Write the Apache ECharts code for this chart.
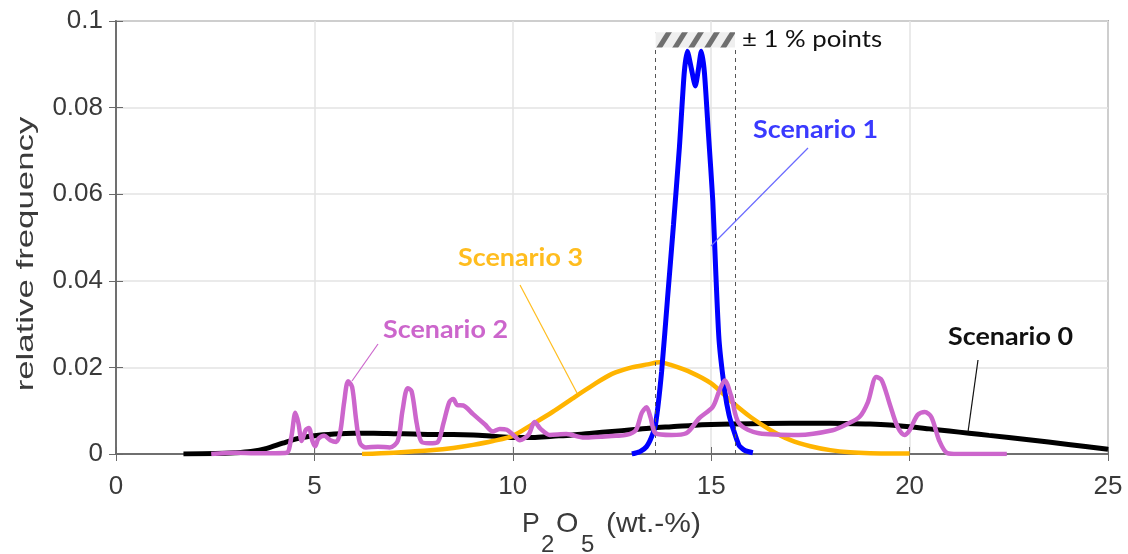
<!DOCTYPE html>
<html>
<head>
<meta charset="utf-8">
<script src="https://cdn.jsdelivr.net/npm/echarts@6/dist/echarts.min.js"></script>
<style>
  html, body { margin: 0; padding: 0; background: #fff; }
  #chart { width: 1128px; height: 554px; }
</style>
</head>
<body>
<div id="chart"></div>
<script>
// x ticks and y ticks
const xTicks = [0, 5, 10, 15, 20, 25]
const yTicks = [0, 0.02, 0.04, 0.06, 0.08, 0.1]

// Scenario 0 (schwarz)
const s0x = [1.7, 2.5, 3.0, 3.4, 3.8, 4.2, 4.6, 5.0, 5.5, 6.0, 6.5, 7.0, 7.5, 8.0, 8.5, 9.0, 9.5, 10.0, 10.5, 11.0, 11.5, 12.0, 12.5, 13.0, 13.5, 14.0, 14.5, 15.0, 16.0, 17.0, 18.0, 19.0, 19.5, 20.0, 20.5, 21.0, 21.5, 22.0, 23.0, 24.0, 25.0]
const s0y = [0, 0.0001, 0.0003, 0.0006, 0.0013, 0.0025, 0.0036, 0.0042, 0.0046, 0.0048, 0.0048, 0.0047, 0.0046, 0.0045, 0.0045, 0.0044, 0.0041, 0.0038, 0.0038, 0.0041, 0.0044, 0.0048, 0.0052, 0.0056, 0.006, 0.0063, 0.0066, 0.0068, 0.007, 0.0071, 0.0071, 0.0069, 0.0067, 0.0063, 0.0058, 0.0053, 0.0048, 0.0043, 0.0033, 0.0022, 0.0011]

// Scenario 1 (blau)
const s1x = [13.0, 13.2, 13.37, 13.5, 13.6, 13.75, 13.9, 14.05, 14.2, 14.32, 14.4, 14.5, 14.6, 14.68, 14.75, 14.83, 14.93, 15.04, 15.12, 15.2, 15.35, 15.45, 15.54, 15.7, 15.85, 16.05]
const s1y = [0, 0.0005, 0.0017, 0.004, 0.007, 0.019, 0.036, 0.053, 0.071, 0.088, 0.093, 0.089, 0.085, 0.089, 0.093, 0.088, 0.074, 0.0585, 0.041, 0.026, 0.014, 0.009, 0.0062, 0.002, 0.0008, 0.0003]

// Scenario 2 (lila)
const s2x = [2.4, 3.0, 3.5, 4.0, 4.3, 4.42, 4.52, 4.6, 4.68, 4.78, 4.86, 4.95, 5.02, 5.1, 5.25, 5.4, 5.55, 5.65, 5.75, 5.85, 5.95, 6.05, 6.15, 6.3, 6.6, 6.9, 7.1, 7.22, 7.35, 7.45, 7.58, 7.7, 7.9, 8.1, 8.25, 8.4, 8.5, 8.6, 8.75, 9.0, 9.3, 9.5, 9.67, 9.85, 10.0, 10.18, 10.4, 10.55, 10.7, 10.93, 11.35, 11.8, 12.2, 12.6, 12.86, 13.1, 13.25, 13.37, 13.47, 13.6, 14.0, 14.37, 14.7, 15.04, 15.2, 15.34, 15.5, 15.7, 16.2, 17.2, 18.06, 18.4, 18.74, 18.95, 19.16, 19.3, 19.5, 19.7, 19.87, 20.0, 20.2, 20.38, 20.55, 20.75, 20.95, 21.2, 22.45]
const s2y = [0, 0.0003, 0.0002, 0.0002, 0.0003, 0.004, 0.0095, 0.007, 0.003, 0.0055, 0.006, 0.003, 0.0018, 0.0035, 0.0042, 0.0032, 0.0028, 0.005, 0.012, 0.0168, 0.0155, 0.008, 0.0025, 0.0015, 0.0017, 0.0015, 0.003, 0.01, 0.0152, 0.0145, 0.007, 0.0028, 0.0025, 0.0027, 0.007, 0.012, 0.0127, 0.0113, 0.0112, 0.0092, 0.0068, 0.0052, 0.0058, 0.0056, 0.0045, 0.0032, 0.0045, 0.0074, 0.0058, 0.0044, 0.0046, 0.0038, 0.004, 0.0042, 0.0044, 0.0055, 0.0095, 0.0108, 0.0085, 0.0048, 0.0044, 0.0048, 0.0083, 0.0109, 0.0145, 0.017, 0.0135, 0.0071, 0.0048, 0.0044, 0.0055, 0.0068, 0.0086, 0.012, 0.0178, 0.017, 0.0115, 0.0062, 0.0044, 0.0055, 0.009, 0.0097, 0.0085, 0.003, 0.0002, 0, 0]

// Scenario 3 (orange)
const s3x = [6.2, 7.0, 8.0, 8.5, 9.0, 9.5, 10.0, 10.5, 11.0, 11.5, 12.0, 12.5, 13.0, 13.4, 13.7, 14.0, 14.5, 15.0, 15.5, 16.0, 16.5, 17.0, 17.5, 18.0, 18.5, 19.0, 20.0]
const s3y = [0, 0.0003, 0.0009, 0.0014, 0.0021, 0.003, 0.0042, 0.0069, 0.0097, 0.0128, 0.0158, 0.0185, 0.02, 0.0207, 0.0212, 0.0205, 0.0188, 0.0163, 0.0122, 0.0085, 0.0055, 0.0032, 0.0018, 0.0009, 0.0004, 0.0002, 0.0001]

// ± 1 % Band um 14.6
const bandX = [13.6, 15.6]
const bandY = [0.0939, 0.0974]

const pair = (xs, ys) => xs.map((x, i) => [x, ys[i]])

// Schraffur für das Band
function hatch () {
  const c = document.createElement('canvas')
  c.width = 16
  c.height = 48
  const g = c.getContext('2d')
  g.fillStyle = '#efefef'
  g.fillRect(0, 0, 16, 48)
  g.fillStyle = '#6f6f6f'
  for (let k = -3; k <= 3; k++) {
    const a = k * 16
    g.beginPath()
    g.moveTo(a, 48)
    g.lineTo(a + 6, 48)
    g.lineTo(a + 6 + 30, 0)
    g.lineTo(a + 30, 0)
    g.closePath()
    g.fill()
  }
  return c
}

const chart = echarts.init(document.getElementById('chart'))
const axisGrey = '#6a6a6a'
const textGrey = '#3a3a3a'
const labelFont = { color: textGrey, fontSize: 26, fontFamily: 'Liberation Sans' }
const calibri = 'Lato'

// Beschriftung im Plot (Text mit leichter Breitenstreckung wie im Original)
function note (text, x, y, color, font, sx = 1.12) {
  return {
    type: 'text', x, y, scaleX: sx, z: 10,
    style: { text, font, fill: color, textAlign: 'left', textVerticalAlign: 'middle' }
  }
}
function leader (x1, y1, x2, y2, color) {
  return { type: 'line', z: 10, shape: { x1, y1, x2, y2 }, style: { stroke: color, lineWidth: 1.2 } }
}

const option = {
  animation: false,
  grid: {
    left: 116, right: 20, top: 21, bottom: 100,
    containLabel: false, outerBoundsMode: 'none',
    show: true, borderColor: axisGrey, borderWidth: 1.5
  },
  xAxis: [
    {
      type: 'value', min: 0, max: 25, interval: 5,
      axisLine: { show: true, lineStyle: { color: axisGrey, width: 1.5 } },
      axisTick: { show: true, inside: true, length: 7, lineStyle: { color: axisGrey } },
      axisLabel: { ...labelFont, margin: 20, formatter: v => xTicks.includes(v) ? String(v) : '' },
      splitLine: { show: true, lineStyle: { color: '#e3e3e3', width: 1.5 } }
    },
    {
      type: 'value', min: 0, max: 25, interval: 5, position: 'top',
      axisLine: { show: true, lineStyle: { color: axisGrey, width: 1.5 } },
      axisTick: { show: true, inside: true, length: 7, lineStyle: { color: axisGrey } },
      axisLabel: { show: false },
      splitLine: { show: false }
    }
  ],
  yAxis: [
    {
      type: 'value', min: 0, max: 0.1, interval: 0.02,
      axisLine: { show: true, lineStyle: { color: axisGrey, width: 1.5 } },
      axisTick: { show: true, inside: true, length: 7, lineStyle: { color: axisGrey } },
      axisLabel: { ...labelFont, margin: 13, formatter: v => yTicks.includes(+v.toFixed(2)) ? String(+v.toFixed(2)) : '' },
      splitLine: { show: true, lineStyle: { color: '#e3e3e3', width: 1.5 } }
    },
    {
      type: 'value', min: 0, max: 0.1, interval: 0.02, position: 'right',
      axisLine: { show: true, lineStyle: { color: axisGrey, width: 1.5 } },
      axisTick: { show: true, inside: true, length: 7, lineStyle: { color: axisGrey } },
      axisLabel: { show: false },
      splitLine: { show: false }
    }
  ],
  series: [
    {
      name: 'Scenario 0', type: 'line', showSymbol: false, smooth: 0.3,
      lineStyle: { color: '#000', width: 5 },
      data: pair(s0x, s0y),
      z: 2
    },
    {
      name: 'Scenario 3', type: 'line', showSymbol: false, smooth: 0.3,
      lineStyle: { color: '#ffb400', width: 4.5 },
      data: pair(s3x, s3y),
      z: 3
    },
    {
      name: 'Scenario 1', type: 'line', showSymbol: false, smooth: 0.2,
      lineStyle: { color: '#0000ff', width: 5 },
      data: pair(s1x, s1y),
      z: 4,
      markLine: {
        silent: true, symbol: 'none', label: { show: false },
        lineStyle: { color: '#555', type: [4, 4], width: 1 },
        data: bandX.map(x => [{ coord: [x, 0] }, { coord: [x, bandY[0]] }])
      },
      markArea: {
        silent: true, label: { show: false },
        itemStyle: { color: { image: hatch(), repeat: 'repeat' } },
        data: [[{ coord: [bandX[0], bandY[0]] }, { coord: [bandX[1], bandY[1]] }]]
      }
    },
    {
      name: 'Scenario 2', type: 'line', showSymbol: false, smooth: 0.3,
      lineStyle: { color: '#cc66cc', width: 4.5 },
      data: pair(s2x, s2y),
      z: 5
    }
  ],
  graphic: [
    // Achsentitel
    {
      type: 'text', x: 26, y: 254, rotation: Math.PI / 2, scaleX: 1.45,
      style: { text: 'relative frequency', font: '24px Liberation Sans', fill: textGrey, textAlign: 'center', textVerticalAlign: 'middle' }
    },
    // P2O5 (wt.-%) mit tiefgestellten Ziffern
    note('P', 522, 524, textGrey, '28px Liberation Sans', 0.95),
    note('2', 541, 545, textGrey, '24px Liberation Sans', 1),
    note('O', 556, 524, textGrey, '28px Liberation Sans', 1.03),
    note('5', 581, 545, textGrey, '24px Liberation Sans', 1),
    note('(wt.-%)', 606, 524, textGrey, '28px Liberation Sans', 1.07),
    // Beschriftungen mit Hinweislinien
    note('± 1 % points', 742, 40, '#111', '23px ' + calibri),
    note('Scenario 1', 753, 130, '#3a3aff', 'bold 24px ' + calibri),
    leader(808, 148, 711, 246, '#6a6aff'),
    note('Scenario 3', 458, 258, '#ffbd1f', 'bold 24px ' + calibri),
    leader(520, 285, 577, 393, '#ffbd1f'),
    note('Scenario 2', 383, 330, '#cc66cc', 'bold 24px ' + calibri),
    leader(378, 344, 352, 381, '#cc66cc'),
    note('Scenario 0', 948, 337, '#111', 'bold 24px ' + calibri),
    leader(978, 360, 968, 432, '#111')
  ]
}

chart.setOption(option)
</script>
</body>
</html>
